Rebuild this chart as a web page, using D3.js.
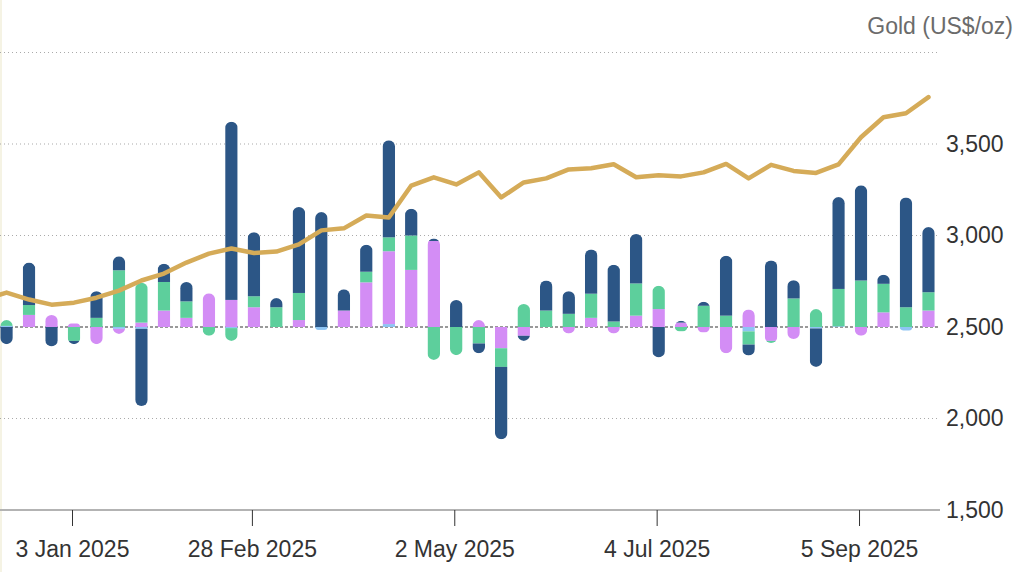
<!DOCTYPE html>
<meta charset="utf-8">

<!-- Load d3.js -->
<script src="https://d3js.org/d3.v7.min.js"></script>

<style>
  body { margin: 0; background: #fff; }
  svg text { font-family: "Liberation Sans", Arial, sans-serif; }
</style>

<!-- Create a div where the graph will take place -->
<div id="my_dataviz"></div>

<script>

// weekly ETF flows by region (US$bn, week ending Friday)
const weeks = [
  "2024-12-13", "2024-12-20", "2024-12-27", "2025-01-03", "2025-01-10", "2025-01-17",
  "2025-01-24", "2025-01-31", "2025-02-07", "2025-02-14", "2025-02-21", "2025-02-28",
  "2025-03-07", "2025-03-14", "2025-03-21", "2025-03-28", "2025-04-04", "2025-04-11",
  "2025-04-18", "2025-04-25", "2025-05-02", "2025-05-09", "2025-05-16", "2025-05-23",
  "2025-05-30", "2025-06-06", "2025-06-13", "2025-06-20", "2025-06-27", "2025-07-04",
  "2025-07-11", "2025-07-18", "2025-07-25", "2025-08-01", "2025-08-08", "2025-08-15",
  "2025-08-22", "2025-08-29", "2025-09-05", "2025-09-12", "2025-09-19", "2025-09-26"
];
const northAmerica = [
  -0.47, 1.16, -0.53, -0.09, 0.73, 0.38, -2.11, 0.50, 0.53, 0, 4.87, 1.75,
  0.25, 2.35, 3.14, 0.58, 0.74, 2.65, 0.73, 0.07, 0.74, -0.27, -1.98, -0.14,
  0.82, 0.62, 1.21, 1.55, 1.35, -0.83, 0.05, 0.11, 1.64, -0.30, 1.82, 0.50,
  -1.05, 2.51, 2.60, 0.25, 3.00, 1.78
];
const europe = [
  0.16, 0.27, 0, -0.38, 0.25, 1.55, 1.09, 0.78, 0.45, -0.24, -0.35, 0.30,
  0.54, 0.74, 0, 0, 0.29, 0.38, 0.94, -0.90, -0.77, -0.45, -0.51, 0.63,
  0.45, 0.36, 0.66, 0.15, 0.88, 0.64, -0.12, 0.58, 0.31, -0.36, -0.06, 0.78,
  0.49, 1.02, 1.27, 0.78, 0.54, 0.50
];
const asia = [
  0, 0.33, 0.33, 0.10, -0.47, -0.14, 0.12, 0.45, 0.25, 0.92, 0.74, 0.54,
  0, 0.19, 0, 0.45, 1.22, 1.99, 1.56, 2.35, 0, 0.19, -0.58, -0.24,
  0, -0.18, 0.25, -0.18, 0.31, 0.49, 0.12, -0.15, -0.72, 0.48, -0.38, -0.33,
  0, 0, -0.24, 0.40, 0, 0.45
];
const other = [
  0.03, 0, 0, 0, 0, -0.05, -0.05, 0, 0, 0, -0.03, 0,
  0, 0, -0.08, 0, 0, 0.08, 0, 0, 0, 0, 0, 0,
  0, 0, 0, 0, 0, 0, 0, 0, 0, -0.12, 0, 0,
  -0.04, 0.02, 0, 0, -0.10, 0
];

// gold price (US$/oz), weekly
const goldDates = ["2024-12-06"].concat(weeks);
const goldPrice = [
  2650, 2688, 2650, 2622, 2633, 2660, 2699, 2754, 2792, 2852, 2901, 2929, 2904,
  2912, 2951, 3028, 3039, 3109, 3098, 3273, 3318, 3279, 3345, 3208, 3290,
  3312, 3361, 3367, 3389, 3318, 3329, 3323, 3345, 3391, 3312, 3386, 3353,
  3342, 3389, 3537, 3646, 3668, 3756
];

const goldTicks = [1500, 2000, 2500, 3000, 3500];
const gridValues = [2000, 3000, 3500, 4000];
const dateTicks = ["2025-01-03", "2025-02-28", "2025-05-02", "2025-07-04", "2025-09-05"];

const keys = ["other", "asia", "europe", "na"];
const colors = {na: "#2c5686", europe: "#5dcf9c", asia: "#d38df5", other: "#8ec4f3"};

const W = 1024, H = 572;
const plotRight = 940;
const barW = 12.5;
const shift = 2;

const parse = d3.timeParse("%Y-%m-%d");

const svg = d3.select("#my_dataviz")
  .append("svg")
    .attr("width", W)
    .attr("height", H);

// faint left border
svg.append("rect")
  .attr("x", 0).attr("y", 0).attr("width", 2).attr("height", H)
  .attr("fill", "#f5f3e4");

// scales
const x = d3.scaleTime()
  .domain([new Date(2024, 11, 11, 14), new Date(2025, 8, 30, 5)])
  .range([0, plotRight]);

const y = d3.scaleLinear()
  .domain([1500, 4000])
  .range([510, 52.5]);

// hidden flow scale, zero sits on the 2,500 line
const flow = d3.scaleLinear()
  .domain([-5, 7.5])
  .range([y(1500), y(4000)]);

// gridlines
svg.append("g")
  .selectAll("line")
  .data(gridValues)
  .join("line")
    .attr("x1", 0)
    .attr("x2", plotRight)
    .attr("y1", d => y(d))
    .attr("y2", d => y(d))
    .attr("stroke", "#aaa")
    .attr("stroke-width", 1.2)
    .attr("stroke-dasharray", "1,3");

// zero line for flows
svg.append("line")
  .attr("x1", 0).attr("x2", plotRight)
  .attr("y1", y(2500)).attr("y2", y(2500))
  .attr("stroke", "#999")
  .attr("stroke-width", 2)
  .attr("stroke-dasharray", "3,2");

// bottom line
svg.append("line")
  .attr("x1", 0).attr("x2", plotRight)
  .attr("y1", y(1500)).attr("y2", y(1500))
  .attr("stroke", "#b3b3b3")
  .attr("stroke-width", 2);

// stacked bars
const rows = weeks.map((w, i) => ({
  date: parse(w), na: northAmerica[i], europe: europe[i], asia: asia[i], other: other[i]
}));

const series = d3.stack()
  .keys(keys)
  .offset(d3.stackOffsetDiverging)(rows);

function capPath(x0, yb, ye, w) {
  const r = Math.min(w / 2, Math.abs(ye - yb));
  if (ye < yb) {
    return `M${x0},${yb}V${ye + r}A${r},${r} 0 0 1 ${x0 + r},${ye}H${x0 + w - r}A${r},${r} 0 0 1 ${x0 + w},${ye + r}V${yb}Z`;
  }
  return `M${x0},${yb}V${ye - r}A${r},${r} 0 0 0 ${x0 + r},${ye}H${x0 + w - r}A${r},${r} 0 0 0 ${x0 + w},${ye - r}V${yb}Z`;
}

// round the outer end of each bar
const defs = svg.append("defs");
rows.forEach((d, i) => {
  const left = x(d.date) + shift - barW / 2;
  const pos = d3.sum(keys, k => Math.max(0, d[k]));
  const neg = d3.sum(keys, k => Math.min(0, d[k]));
  const cp = defs.append("clipPath").attr("id", "bar-" + i);
  if (pos > 0) cp.append("path").attr("d", capPath(left, flow(0), flow(pos), barW));
  if (neg < 0) cp.append("path").attr("d", capPath(left, flow(0), flow(neg), barW));
});

svg.append("g")
  .selectAll("g")
  .data(series)
  .join("g")
    .attr("fill", d => colors[d.key])
  .selectAll("rect")
  .data(d => d.map((s, i) => ({s: s, i: i})))
  .join("rect")
    .attr("clip-path", d => `url(#bar-${d.i})`)
    .attr("x", d => x(rows[d.i].date) + shift - barW / 2)
    .attr("width", barW)
    .attr("y", d => flow(Math.max(d.s[0], d.s[1])))
    .attr("height", d => Math.abs(flow(d.s[0]) - flow(d.s[1])));

// gold price line
defs.append("clipPath").attr("id", "plot-clip")
  .append("rect")
    .attr("x", 0).attr("y", 0).attr("width", plotRight).attr("height", H);

const line = d3.line()
  .x((d, i) => x(parse(goldDates[i])) + shift)
  .y(d => y(d));

svg.append("path")
  .datum(goldPrice)
  .attr("clip-path", "url(#plot-clip)")
  .attr("fill", "none")
  .attr("stroke", "#d5ab58")
  .attr("stroke-width", 4.5)
  .attr("stroke-linejoin", "round")
  .attr("stroke-linecap", "round")
  .attr("d", line);

// x axis
const xAxis = svg.append("g")
  .attr("transform", `translate(0,${y(1500)})`)
  .call(d3.axisBottom(x)
    .tickValues(dateTicks.map(parse))
    .tickSize(16)
    .tickPadding(15)
    .tickFormat(d3.timeFormat("%-d %b %Y")));
xAxis.select(".domain").remove();
xAxis.selectAll("line").attr("stroke", "#333");
xAxis.selectAll("text")
  .attr("fill", "#333")
  .style("font-size", "23px");

// y axis on the right
const yAxis = svg.append("g")
  .attr("transform", `translate(${plotRight},0)`)
  .call(d3.axisRight(y)
    .tickValues(goldTicks)
    .tickSize(0)
    .tickPadding(6)
    .tickFormat(d3.format(",")));
yAxis.select(".domain").remove();
yAxis.selectAll("text")
  .attr("fill", "#333")
  .style("font-size", "23px");

// axis title
svg.append("text")
  .attr("x", 1013)
  .attr("y", 33.5)
  .attr("text-anchor", "end")
  .attr("fill", "#6b6b6b")
  .style("font-size", "23px")
  .text("Gold (US$/oz)");

</script>
